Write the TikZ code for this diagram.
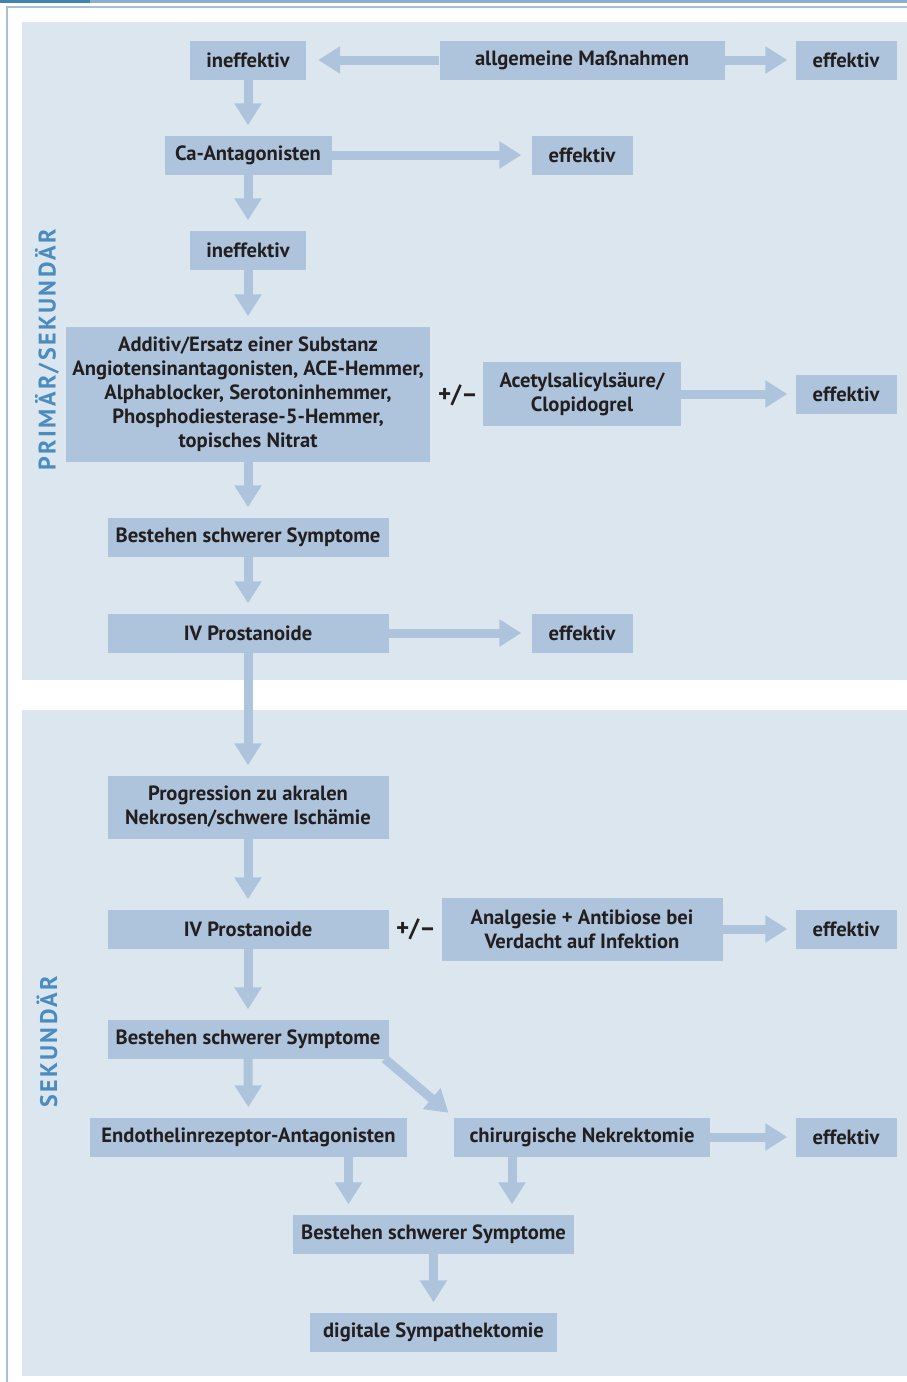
\documentclass[tikz,border=0pt]{standalone}
\usepackage{fontspec}
\setmainfont{PT Sans}
\newfontfamily\sidefont[LetterSpace=10]{PT Sans}
\usetikzlibrary{arrows.meta, positioning}
\definecolor{panelblue}{HTML}{DCE6EF}
\definecolor{boxblue}{HTML}{ADC4DC}
\definecolor{labelblue}{HTML}{4A8CC0}
\definecolor{bardark}{HTML}{3F85B0}
\definecolor{barlight}{HTML}{8DAFCB}
\definecolor{framegray}{HTML}{A9BFD3}
\definecolor{textdark}{HTML}{231F20}

\begin{document}
\begin{tikzpicture}[
    x=1pt, y=-1pt,
    stepbox/.style={
        fill=boxblue,
        text=textdark,
        font=\bfseries\fontsize{20.6}{24}\selectfont,
        align=center,
        inner sep=0pt,
        minimum height=39pt
    },
    flow/.style={
        draw=boxblue,
        line width=9pt,
        -{Triangle[length=22pt, width=26pt]},
        shorten >=10pt
    },
    plusminus/.style={
        text=textdark,
        font=\bfseries\fontsize{25}{28}\selectfont
    },
    sidelabel/.style={
        rotate=90,
        text=labelblue,
        font=\sidefont\bfseries\fontsize{24}{28}\selectfont
    }
]
\useasboundingbox (0,0) rectangle (907,1382);

% frame and panels
\fill[bardark] (0,0) rectangle (90,3);
\fill[barlight] (90,0) rectangle (907,3);
\draw[framegray, line width=1.2pt] (7,1382) -- (7,7) -- (907,7);
\fill[panelblue] (22,22) rectangle (907,680);
\fill[panelblue] (22,710) rectangle (907,1376);

\node[sidelabel] (lprim) at (47,350) {PRIMÄR/SEKUNDÄR};
\node[sidelabel] (lsek) at (47,1042) {SEKUNDÄR};

% primary part
\node[stepbox, minimum width=116pt] (ineff1) at (248,60) {ineffektiv};
\node[stepbox, minimum width=285pt] (allg) at (582,60) {allgemeine Maßnahmen};
\node[stepbox, minimum width=101pt] (eff1) at (846,60) {effektiv};
\node[stepbox, minimum width=167pt] (ca) at (248,155) {Ca-Antagonisten};
\node[stepbox, minimum width=101pt] (eff2) at (582,155) {effektiv};
\node[stepbox, minimum width=116pt] (ineff2) at (248,250) {ineffektiv};
\node[stepbox, minimum width=364pt, minimum height=135pt] (subst) at (248,394)
    {Additiv/Ersatz einer Substanz\\ Angiotensinantagonisten, ACE-Hemmer,\\ Alphablocker, Serotoninhemmer,\\ Phosphodiesterase-5-Hemmer,\\ topisches Nitrat};
\node[plusminus] (pm1) at (458,395) {+/--};
\node[stepbox, minimum width=198pt, minimum height=64pt] (acet) at (582,394) {Acetylsalicylsäure/\\ Clopidogrel};
\node[stepbox, minimum width=101pt] (eff3) at (846,394) {effektiv};
\node[stepbox, minimum width=281pt] (bes1) at (248,537) {Bestehen schwerer Symptome};
\node[stepbox, minimum width=281pt] (ivp1) at (248,633) {IV Prostanoide};
\node[stepbox, minimum width=101pt] (eff4) at (582,633) {effektiv};

% secondary part
\node[stepbox, minimum width=281pt, minimum height=63pt] (prog) at (248,807) {Progression zu akralen\\ Nekrosen/schwere Ischämie};
\node[stepbox, minimum width=281pt] (ivp2) at (248,929) {IV Prostanoide};
\node[plusminus] (pm2) at (416,929) {+/--};
\node[stepbox, minimum width=281pt, minimum height=63pt] (analg) at (582,929) {Analgesie + Antibiose bei\\ Verdacht auf Infektion};
\node[stepbox, minimum width=101pt] (eff5) at (846,929) {effektiv};
\node[stepbox, minimum width=281pt] (bes2) at (248,1039) {Bestehen schwerer Symptome};
\node[stepbox, minimum width=317pt] (endo) at (248.5,1137) {Endothelinrezeptor-Antagonisten};
\node[stepbox, minimum width=256pt] (chir) at (582,1137) {chirurgische Nekrektomie};
\node[stepbox, minimum width=101pt] (eff6) at (846,1137) {effektiv};
\node[stepbox, minimum width=281pt] (bes3) at (433.5,1234) {Bestehen schwerer Symptome};
\node[stepbox, minimum width=247pt] (dig) at (433.5,1332) {digitale Sympathektomie};

% Arrows
\draw[flow, shorten >=12pt] (allg) -- (ineff1);
\draw[flow, shorten >=8pt] (allg) -- (eff1);
\draw[flow] (ineff1) -- (ca);
\draw[flow] (ca) -- (eff2);
\draw[flow] (ca) -- (ineff2);
\draw[flow] (ineff2) -- (subst);
\draw[flow, shorten >=8pt] (acet) -- (eff3);
\draw[flow] (subst) -- (bes1);
\draw[flow] (bes1) -- (ivp1);
\draw[flow] (ivp1) -- (eff4);
\draw[flow] (ivp1) -- (prog);
\draw[flow] (prog) -- (ivp2);
\draw[flow, shorten >=8pt] (analg) -- (eff5);
\draw[flow] (ivp2) -- (bes2);
\draw[flow] (bes2) -- (endo);
\draw[flow, shorten >=7pt] ([xshift=-4pt]bes2.south east) -- (chir.north west);
\draw[flow, shorten >=8pt] (chir) -- (eff6);
\draw[flow] ([xshift=100pt]endo.south) -- ([xshift=100pt]endo.south |- bes3.north);
\draw[flow] ([xshift=-70pt]chir.south) -- ([xshift=-70pt]chir.south |- bes3.north);
\draw[flow] (bes3) -- (dig);

\end{tikzpicture}
\end{document}
